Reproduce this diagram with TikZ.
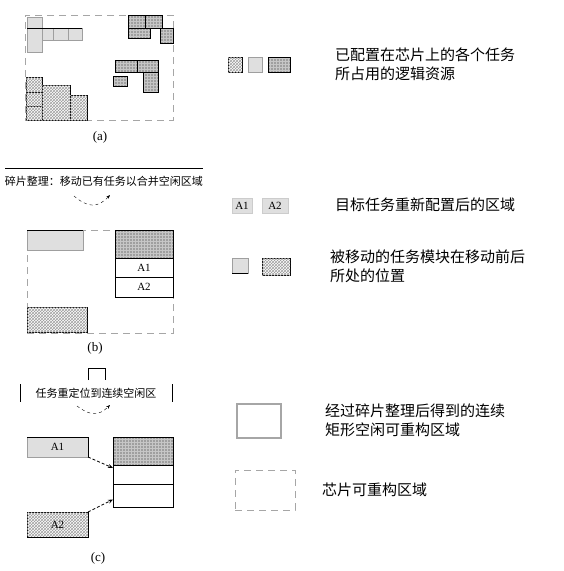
\documentclass[tikz,border=0pt]{standalone}
\usepackage{fontspec}
\setmainfont{Liberation Serif}
\newfontfamily\cjk{Noto Sans CJK SC}
\usetikzlibrary{patterns}
\usetikzlibrary{arrows.meta}
\tikzset{
  sz/.style 2 args = {minimum width=#1pt, minimum height=#2pt},
  task/.style = {rectangle, anchor=north west, inner sep=0pt,
    outer sep=0pt, font=\fontsize{11}{12}\selectfont},
  light_task/.style = {task, draw=gray!75, fill=gray!25},% tache claire
  dark_task/.style = {task, draw=black, fill=gray!75,
    path picture={\draw [gray!45, line width=0.4pt]
      (path picture bounding box.south west) grid [step=3pt]
      (path picture bounding box.north east);}},% tache sombre
  dot_task/.style = {task, draw=black, fill=white,
    postaction={pattern=crosshatch, pattern color=gray!75}},% tache hachuree
  empty_box/.style = {task, draw=black, fill=white},% place libre
  area_box/.style = {task, draw=gray!70, dash pattern=on 7pt off 5pt},% zone
  move_arrow/.style = {-{Stealth[length=5pt,width=4pt]}, thick,
    dash pattern=on 3pt off 2pt},
  cn_text/.style = {anchor=west, align=left, inner sep=0pt,
    font=\cjk\fontsize{15}{19}\selectfont},
  cn_small/.style = {inner sep=0pt, font=\cjk\fontsize{11}{13}\selectfont},
  sub_label/.style = {inner sep=0pt, font=\fontsize{13}{14}\selectfont}
}

\begin{document}
\begin{tikzpicture}[x=1pt, y=-1pt]
  \useasboundingbox (0,0) rectangle (563,571);
  % (a)
  \node [area_box, sz={148}{105}] (area_a) at (25,15) {};
  \node [light_task, sz={15}{35}] (la1) at (27,17) {};
  \node [light_task, sz={11}{12}] (la2) at (42,28) {};
  \node [light_task, sz={15}{12}] (la3) at (53,28) {};
  \node [light_task, sz={14}{12}] (la4) at (68,28) {};
  \draw [thick] (la1.north west |- la2.north) -- (la4.north east);
  \node [dark_task, sz={17}{13}] (da1) at (128,15) {};
  \node [dark_task, sz={17}{13}] (da2) at (145,15) {};
  \node [dark_task, sz={22}{10}] (da3) at (128,28) {};
  \node [dark_task, sz={13}{15}] (da4) at (160,28) {};
  \node [dark_task, sz={22}{12}] (db1) at (115,60) {};
  \node [dark_task, sz={21}{12}] (db2) at (137,60) {};
  \node [dark_task, sz={14}{10}] (db3) at (113,76) {};
  \node [dark_task, sz={15}{20}] (db4) at (143,72) {};
  \node [dot_task, sz={16}{15}] (ha1) at (26,77) {};
  \node [dot_task, sz={16}{14}] (ha2) at (26,92) {};
  \node [dot_task, sz={16}{14}] (ha3) at (26,106) {};
  \node [dot_task, sz={28}{35}] (ha4) at (42,85) {};
  \node [dot_task, sz={17}{25}] (ha5) at (70,95) {};
  \node [sub_label] (lab_a) at (100,137) {(a)};

  \coordinate (sep_l) at (5,168);
  \coordinate (sep_r) at (203,168);
  \draw [thick] (sep_l) -- (sep_r);
  \node [cn_small] (txt_ab) at (104,181) {碎片整理：移动已有任务以合并空闲区域};
  \coordinate (arr1_s) at (74,196);
  \coordinate (arr1_e) at (110,195);
  \draw [dashed, -{Stealth[length=4pt]}] (arr1_s) .. controls (88,208) and (98,208) .. (arr1_e);

  % (b)
  \node [area_box, sz={146}{103}] (area_b) at (27,230) {};
  \node [light_task, sz={56}{20}] (lb) at (27,230) {};
  \draw [thick] (lb.north west) -- (lb.north east);
  \node [dark_task, sz={58}{28}] (dkb) at (115,230) {};
  \node [empty_box, sz={58}{19}] (a1b) at (115,258) {A1};
  \node [empty_box, sz={58}{20}] (a2b) at (115,277) {A2};
  \node [dot_task, sz={60}{25}] (hb) at (27,307) {};
  \node [sub_label] (lab_b) at (95,348) {(b)};

  % (c)
  \coordinate (brk_1) at (88,380);
  \coordinate (brk_2) at (88,368);
  \coordinate (brk_3) at (105,368);
  \coordinate (brk_4) at (105,380);
  \draw [thick] (brk_1) -- (brk_2) -- (brk_3) -- (brk_4);
  \coordinate (bar_l1) at (20,384);
  \coordinate (bar_l2) at (20,402);
  \coordinate (bar_r1) at (172,384);
  \coordinate (bar_r2) at (172,402);
  \draw (bar_l1) -- (bar_l2);
  \draw (bar_r1) -- (bar_r2);
  \node [cn_small] (txt_bc) at (96,393) {任务重定位到连续空闲区};
  \coordinate (arr2_s) at (77,406);
  \coordinate (arr2_e) at (110,405);
  \draw [dashed, -{Stealth[length=4pt]}] (arr2_s) .. controls (90,416) and (99,416) .. (arr2_e);

  \node [light_task, sz={61}{20}] (lc) at (27,437) {A1};
  \draw [thick] (lc.north west) -- (lc.north east) -- (lc.south east);
  \node [dark_task, sz={60}{28}] (dkc) at (113,437) {};
  \node [empty_box, sz={60}{19}] (ec1) at (113,465) {};
  \node [empty_box, sz={60}{23}] (ec2) at (113,484) {};
  \draw [thick] (dkc.north west) rectangle (ec2.south east);
  \node [dot_task, sz={61}{25}] (hc) at (27,512) {A2};
  \draw [thick] (hc.north east) -- (hc.south east) -- (hc.south west);
  \draw [move_arrow] (lc.south east) -- ([yshift=-3pt]ec1.north west);
  \draw [move_arrow] (hc.north east) -- ([yshift=-4pt]ec2.west);
  \node [sub_label] (lab_c) at (98,558) {(c)};

  % legende
  \node [dot_task, sz={14}{15}] (leg1a) at (228,57) {};
  \node [light_task, sz={14}{15}] (leg1b) at (248,57) {};
  \node [dark_task, sz={22}{15}] (leg1c) at (268,57) {};
  \node [cn_text] (leg1t) at (335,64) {已配置在芯片上的各个任务\\所占用的逻辑资源};

  \node [light_task, sz={20}{15}, draw=gray!40] (leg2a) at (232,198) {A1};
  \node [light_task, sz={26}{15}, draw=gray!40] (leg2b) at (262,198) {A2};
  \node [cn_text] (leg2t) at (335,205) {目标任务重新配置后的区域};

  \node [light_task, sz={16}{15}] (leg3a) at (232,258) {};
  \draw [thick] (leg3a.south west) -- (leg3a.south east);
  \node [dot_task, sz={28}{17}] (leg3b) at (262,258) {};
  \node [cn_text] (leg3t) at (330,266) {被移动的任务模块在移动前后\\所处的位置};

  \node [task, draw=gray!70, line width=2pt, sz={44}{34}] (leg4a) at (237,404) {};
  \node [cn_text] (leg4t) at (325,420) {经过碎片整理后得到的连续\\矩形空闲可重构区域};

  \node [area_box, sz={60}{40}] (leg5a) at (235,470) {};
  \node [cn_text] (leg5t) at (322,490) {芯片可重构区域};
\end{tikzpicture}
\end{document}
